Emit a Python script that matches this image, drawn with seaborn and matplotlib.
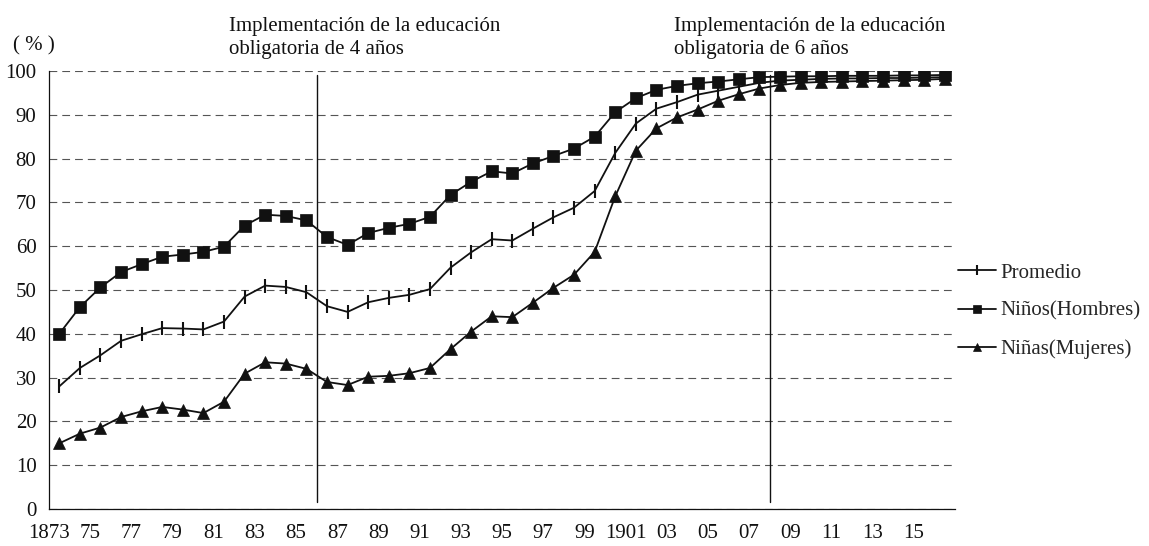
import matplotlib

matplotlib.use("Agg")
import matplotlib.pyplot as plt
import numpy as np
import pandas as pd
import seaborn as sns

YEARS = list(range(1873, 1917))

PROMEDIO = [28.0, 32.2, 35.1, 38.4, 39.9, 41.3, 41.2, 41.0, 42.8, 48.5, 51.0, 50.7,
            49.5, 46.3, 45.0, 47.2, 48.2, 48.9, 50.2, 55.1, 58.6, 61.6, 61.3, 64.0,
            66.6, 68.8, 72.6, 81.3, 88.0, 91.4, 92.9, 94.6, 95.5, 96.4, 97.3,
            97.8, 98.0, 98.2, 98.3, 98.3, 98.4, 98.4, 98.5, 98.6]
NINOS = [40.0, 46.1, 50.6, 54.1, 55.9, 57.6, 58.1, 58.7, 59.9, 64.7, 67.2, 66.9,
         65.9, 62.1, 60.3, 63.0, 64.2, 65.1, 66.7, 71.7, 74.7, 77.1, 76.6, 78.9,
         80.6, 82.3, 85.0, 90.6, 93.8, 95.7, 96.6, 97.2, 97.6, 98.1, 98.6,
         98.7, 98.8, 98.8, 98.9, 98.9, 98.9, 99.0, 99.0, 99.1]
NINAS = [15.0, 17.2, 18.6, 21.0, 22.3, 23.3, 22.7, 21.9, 24.5, 30.9, 33.5, 33.2,
         32.0, 29.0, 28.3, 30.2, 30.4, 31.0, 32.2, 36.5, 40.5, 44.0, 43.8, 47.1,
         50.5, 53.5, 58.7, 71.4, 81.8, 86.9, 89.4, 91.2, 93.2, 94.7, 96.0,
         96.8, 97.3, 97.5, 97.6, 97.7, 97.8, 97.9, 98.0, 98.2]

SERIES = ["Promedio", "Niños(Hombres)", "Niñas(Mujeres)"]
MARKERS = {"Promedio": "|", "Niños(Hombres)": "s", "Niñas(Mujeres)": "^"}

X_LABELS = ["1873", "75", "77", "79", "81", "83", "85", "87", "89", "91", "93",
            "95", "97", "99", "1901", "03", "05", "07", "09", "11", "13", "15"]

REFORM_YEARS = [1886, 1908]
REFORM_TEXT = [
    ("Implementación de la educación", "obligatoria de 4 años"),
    ("Implementación de la educación", "obligatoria de 6 años"),
]


def main():
    sns.set_style("white")
    plt.rcParams["font.family"] = ["Liberation Serif", "DejaVu Serif"]
    fs = 15
    ink = "#111111"

    df = pd.DataFrame({
        "idx": np.arange(len(YEARS)),
        "year": YEARS,
        "Promedio": PROMEDIO,
        "Niños(Hombres)": NINOS,
        "Niñas(Mujeres)": NINAS,
    })
    long_df = df.melt(id_vars=["idx", "year"], value_vars=SERIES,
                      var_name="serie", value_name="tasa")

    fig = plt.figure(figsize=(11.49, 5.46), dpi=100)
    ax = fig.add_axes([49 / 1149, 37 / 546, (955 - 49) / 1149, (509 - 71) / 546])

    for name in SERIES:
        sub = long_df[long_df["serie"] == name]
        m = MARKERS[name]
        if m == "|":
            kw = dict(markersize=10, markeredgewidth=1.5)
        else:
            kw = dict(markersize=9, markeredgewidth=0.5)
        sns.lineplot(data=sub, x="idx", y="tasa", ax=ax, color=ink,
                     linewidth=1.3, marker=m, markeredgecolor=ink,
                     markerfacecolor=ink, label=name, **kw)

    n = len(YEARS)
    ax.set_xlim(-0.5, n - 0.5)
    ax.set_ylim(0, 100)

    bounds = np.arange(n + 1) - 0.5
    ax.set_xticks(bounds)
    labels = [""] * len(bounds)
    for k, lab in enumerate(X_LABELS):
        labels[2 * k] = lab
    ax.set_xticklabels(labels, fontsize=fs)
    ax.tick_params(axis="x", direction="in", length=4, width=0.8, pad=11, colors=ink)

    ax.set_yticks(np.arange(0, 101, 10))
    ax.tick_params(axis="y", length=0, pad=9, labelsize=fs, colors=ink)
    ax.set_xlabel("")
    ax.set_ylabel("")

    ax.yaxis.grid(True, linestyle=(0, (7.0, 4.5)), color="#555555", linewidth=0.8)
    ax.xaxis.grid(False)
    for side in ["top", "right"]:
        ax.spines[side].set_visible(False)
    for side in ["left", "bottom"]:
        ax.spines[side].set_color(ink)
        ax.spines[side].set_linewidth(0.9)

    for yr in REFORM_YEARS:
        ax.axvline(YEARS.index(yr) - 0.5, ymin=0.016, ymax=0.99, color=ink, linewidth=1.0)

    text_x = [229 / 1149, 674 / 1149]
    for x, (l1, l2) in zip(text_x, REFORM_TEXT):
        fig.text(x, 1 - 30.7 / 546, l1, fontsize=fs, va="baseline", ha="left", color=ink)
        fig.text(x, 1 - 54.3 / 546, l2, fontsize=fs, va="baseline", ha="left", color=ink)

    fig.text(13 / 1149, 1 - 46 / 546, "( % )", fontsize=fs, va="center", ha="left", color=ink)

    handles, labs = ax.get_legend_handles_labels()
    ax.legend(handles, labs, loc="upper left", bbox_to_anchor=(958 / 1149, 1 - 263 / 546),
              bbox_transform=fig.transFigure, frameon=False, fontsize=fs,
              handlelength=1.8, handletextpad=0.25, labelspacing=0.9, markerscale=0.7,
              borderpad=0, borderaxespad=0)

    fig.savefig("out.png", dpi=100)
    plt.close(fig)


if __name__ == "__main__":
    main()
